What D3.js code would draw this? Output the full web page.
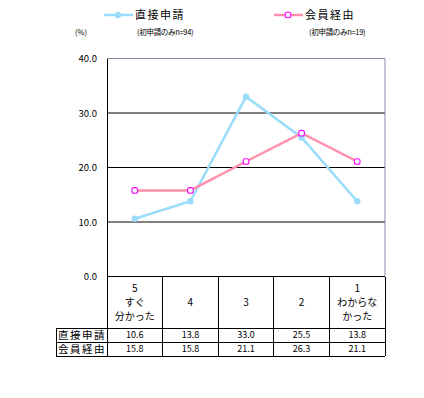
<!DOCTYPE html>
<html>
<head>
<meta charset="utf-8">
<script src="https://cdn.jsdelivr.net/npm/d3@7/dist/d3.min.js"></script>
<style>
  body { margin: 0; background: #fff; }
  text { font-family: "Noto Sans CJK JP", "DejaVu Sans", sans-serif; fill: #000; }
</style>
</head>
<body>
<div id="chart"></div>
<script>
// categories (header cells of the table, line by line)
const categories = [
  ['5', 'すぐ', '分かった'],
  ['4'],
  ['3'],
  ['2'],
  ['1', 'わからな', 'かった']
];
const seriesNames = ['直接申請', '会員経由'];
const direct = [10.6, 13.8, 33.0, 25.5, 13.8];
const member = [15.8, 15.8, 21.1, 26.3, 21.1];
const yTicks = [0, 10, 20, 30, 40];
const notes = ['(%)', '(初申請のみn=94)', '(初申請のみn=19)'];

const W = 424, H = 398;
const margin = {top: 58.5, left: 107, right: 39, bottom: 121.5};
const width = W - margin.left - margin.right;
const height = H - margin.top - margin.bottom;

const colors = {direct: '#99dcfb', member: '#ff8fab', memberMark: '#ff00ff', frame: '#8c88a8'};

const svg = d3.select('#chart').append('svg')
  .attr('width', W)
  .attr('height', H);

const x = d3.scaleBand().domain(d3.range(categories.length)).range([0, width]);
const y = d3.scaleLinear().domain([0, 40]).range([height, 0]);

const main = svg.append('g')
  .attr('transform', `translate(${margin.left},${margin.top})`);

// grid lines
main.selectAll('.grid')
  .data(yTicks.filter(d => d > 0 && d < 40))
  .enter().append('line')
  .attr('x1', 0).attr('x2', width)
  .attr('y1', d => y(d)).attr('y2', d => y(d))
  .attr('stroke', '#000').attr('stroke-width', 1);

// top / right frame
main.append('path')
  .attr('d', `M0,${y(40)}H${width}V${y(0)}`)
  .attr('fill', 'none').attr('stroke', colors.frame).attr('stroke-width', 1);

// y axis
const yAxis = d3.axisLeft(y).tickValues(yTicks).tickSize(0).tickPadding(10)
  .tickFormat(d3.format('.1f'));
main.append('g').attr('class', 'y axis').call(yAxis)
  .call(g => g.select('.domain').attr('stroke', '#000'))
  .call(g => g.selectAll('text').attr('font-size', 9.5));

// x axis line
main.append('line')
  .attr('x1', 0).attr('x2', width)
  .attr('y1', y(0)).attr('y2', y(0))
  .attr('stroke', '#000');

// lines
const cx = i => x(i) + x.bandwidth() / 2;
const line = d3.line().x((d, i) => cx(i)).y(d => y(d));

main.append('path').datum(direct)
  .attr('d', line).attr('fill', 'none')
  .attr('stroke', colors.direct).attr('stroke-width', 2.5);
main.append('path').datum(member)
  .attr('d', line).attr('fill', 'none')
  .attr('stroke', colors.member).attr('stroke-width', 2.5);

main.selectAll('.dm').data(direct).enter().append('circle')
  .attr('cx', (d, i) => cx(i)).attr('cy', d => y(d)).attr('r', 3.2)
  .attr('fill', colors.direct);
main.selectAll('.mm').data(member).enter().append('rect')
  .attr('x', (d, i) => cx(i) - 2.8).attr('y', d => y(d) - 2.8)
  .attr('width', 5.6).attr('height', 5.6).attr('rx', 2)
  .attr('fill', '#fff').attr('stroke', colors.memberMark).attr('stroke-width', 1.1);

// table
const t0 = height;
const headerH = 51.5, rowH = 14.2;
const labelX = 56 - margin.left;
const tbl = main.append('g');
const ln = (x1, y1, x2, y2) => tbl.append('line')
  .attr('x1', x1).attr('y1', y1).attr('x2', x2).attr('y2', y2)
  .attr('stroke', '#000').attr('shape-rendering', 'crispEdges');

for (let i = 0; i <= categories.length; i++) {
  const xx = i < categories.length ? x(i) : width;
  ln(xx, t0, xx, t0 + headerH + 2 * rowH);
}
ln(labelX, t0 + headerH, width, t0 + headerH);
ln(labelX, t0 + headerH + rowH, width, t0 + headerH + rowH);
ln(labelX, t0 + headerH + 2 * rowH, width, t0 + headerH + 2 * rowH);
ln(labelX, t0 + headerH, labelX, t0 + headerH + 2 * rowH);

categories.forEach((lines, i) => {
  const n = lines.length;
  lines.forEach((s, j) => {
    tbl.append('text')
      .attr('x', cx(i))
      .attr('y', t0 + headerH / 2 + (j - (n - 1) / 2) * 14)
      .attr('dy', '0.35em')
      .attr('text-anchor', 'middle')
      .attr('font-size', 10)
      .text(s);
  });
});

[direct, member].forEach((vals, r) => {
  const yy = t0 + headerH + rowH * r + rowH / 2;
  tbl.append('text')
    .attr('x', labelX + 2).attr('y', yy).attr('dy', '0.35em')
    .attr('font-size', 10.5).attr('letter-spacing', 1.5)
    .text(seriesNames[r]);
  vals.forEach((v, i) => {
    tbl.append('text')
      .attr('x', cx(i)).attr('y', yy).attr('dy', '0.35em')
      .attr('text-anchor', 'middle').attr('font-size', 9)
      .text(d3.format('.1f')(v));
  });
});

// legend
const legend = [
  {name: seriesNames[0], x: 104, color: colors.direct, mark: 'dot'},
  {name: seriesNames[1], x: 274, color: colors.member, mark: 'box'}
];
legend.forEach(l => {
  const g = svg.append('g').attr('transform', `translate(${l.x},15)`);
  g.append('line').attr('x1', 0).attr('x2', 29).attr('stroke', l.color).attr('stroke-width', 2.5);
  if (l.mark === 'dot') {
    g.append('circle').attr('cx', 14).attr('r', 3.2).attr('fill', l.color);
  } else {
    g.append('rect').attr('x', 11.2).attr('y', -2.8).attr('width', 5.6).attr('height', 5.6).attr('rx', 2)
      .attr('fill', '#fff').attr('stroke', colors.memberMark).attr('stroke-width', 1.1);
  }
  g.append('text').attr('x', 31).attr('dy', '0.35em')
    .attr('font-size', 11).attr('letter-spacing', 1.5).text(l.name);
});

// notes
svg.append('text').attr('x', 75).attr('y', 32).attr('dy', '0.35em').attr('font-size', 7.5).text(notes[0]);
svg.append('text').attr('x', 137).attr('y', 32).attr('dy', '0.35em').attr('font-size', 7.5).attr('letter-spacing', -0.3).text(notes[1]);
svg.append('text').attr('x', 309).attr('y', 32).attr('dy', '0.35em').attr('font-size', 7.5).attr('letter-spacing', -0.3).text(notes[2]);
</script>
</body>
</html>
